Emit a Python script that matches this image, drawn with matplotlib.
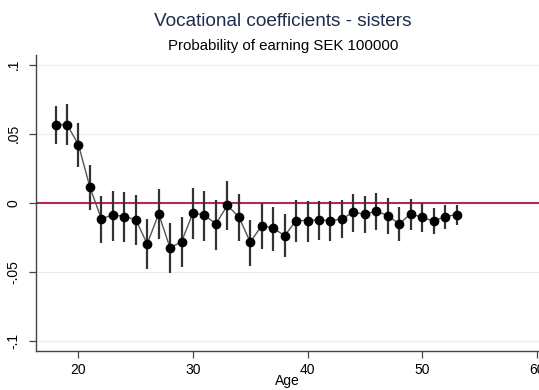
import matplotlib

matplotlib.use("Agg")

import matplotlib.pyplot as plt
import numpy as np

plt.rcParams["font.family"] = ["Liberation Sans", "DejaVu Sans"]

AGES = list(range(18, 54))
COEF = [
    0.0565, 0.0567, 0.0421, 0.0114, -0.0116, -0.0087, -0.0099, -0.0121,
    -0.0297, -0.0080, -0.0326, -0.0281, -0.0072, -0.0089, -0.0152, -0.0019,
    -0.0101, -0.0285, -0.0164, -0.0184, -0.0237, -0.0128, -0.0128, -0.0123,
    -0.0130, -0.0116, -0.0068, -0.0082, -0.0060, -0.0092, -0.0152, -0.0080,
    -0.0104, -0.0133, -0.0099, -0.0085,
]
CI_HIGH = [
    0.0702, 0.0714, 0.0579, 0.0276, 0.0053, 0.0089, 0.0077, 0.0058,
    -0.0116, 0.0099, -0.0147, -0.0104, 0.0109, 0.0089, 0.0022, 0.0155,
    0.0065, -0.0121, 0.0000, -0.0027, -0.0080, 0.0022, 0.0017, 0.0017,
    0.0010, 0.0022, 0.0065, 0.0053, 0.0070, 0.0034, -0.0031, 0.0029,
    -0.0002, -0.0036, -0.0019, -0.0019,
]
CI_LOW = [
    0.0425, 0.0418, 0.0263, -0.0050, -0.0292, -0.0273, -0.0280, -0.0302,
    -0.0478, -0.0260, -0.0505, -0.0466, -0.0261, -0.0273, -0.0338, -0.0200,
    -0.0278, -0.0459, -0.0333, -0.0350, -0.0394, -0.0285, -0.0280, -0.0268,
    -0.0278, -0.0258, -0.0208, -0.0220, -0.0196, -0.0225, -0.0278, -0.0200,
    -0.0213, -0.0229, -0.0188, -0.0159,
]
X_TICKS = [20, 30, 40, 50, 60]
Y_TICKS = [-0.1, -0.05, 0, 0.05, 0.1]
Y_LABELS = ["-.1", "-.05", "0", ".05", ".1"]

fig = plt.figure(figsize=(5.39, 3.90), dpi=100)
ax = fig.add_axes([35.7 / 539, 39.3 / 390, 1 - 35.7 / 539, 295.7 / 390])

ages = np.array(AGES)
coef = np.array(COEF)

for y in Y_TICKS:
    if y != 0:
        ax.axhline(y, color="#ececec", linewidth=0.8, zorder=0)
ax.axhline(0, color="#b3294f", linewidth=1.5, zorder=1)

ax.vlines(ages, CI_LOW, CI_HIGH, color="#333333", linewidth=1.6, zorder=2)
ax.plot(ages, coef, color="#555555", linewidth=1.0, zorder=3)
ax.plot(ages, coef, "o", color="black", markersize=6, zorder=4)

ax.set_xlim(16.27, 60.2)
ax.set_ylim(-0.107, 0.107)
ax.set_xticks(X_TICKS)
ax.set_yticks(Y_TICKS)
ax.set_yticklabels(Y_LABELS, rotation=90, va="center")
ax.tick_params(axis="both", length=5, width=0.9, color="#444444", labelsize=10)
ax.tick_params(axis="y", pad=6)
ax.tick_params(axis="x", pad=4)

for side in ["top", "right"]:
    ax.spines[side].set_visible(False)
for side in ["left", "bottom"]:
    ax.spines[side].set_color("#444444")
    ax.spines[side].set_linewidth(1.0)

ax.set_xlabel("Age", fontsize=10, labelpad=-2)

fig.text(283 / 539, 1 - 21 / 390, "Vocational coefficients - sisters",
         ha="center", va="center", fontsize=13.7, color="#1f2d4d")
fig.text(283 / 539, 1 - 46 / 390, "Probability of earning SEK 100000",
         ha="center", va="center", fontsize=10.8, color="black")

fig.savefig("out.png", dpi=100)
